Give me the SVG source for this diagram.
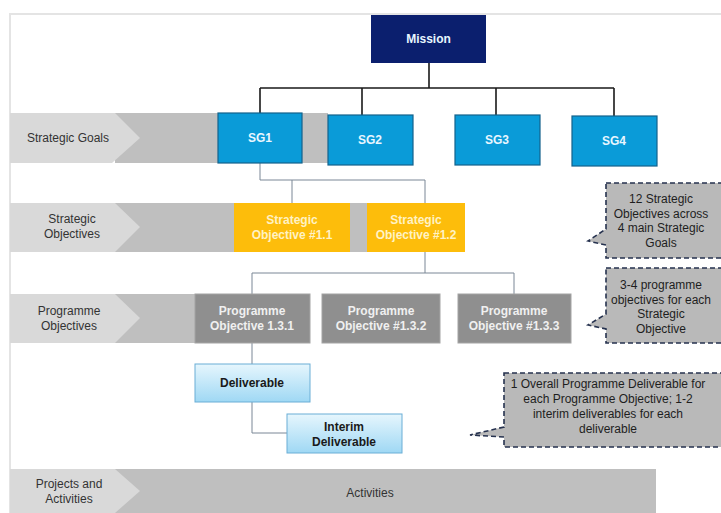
<svg xmlns="http://www.w3.org/2000/svg" width="721" height="513" viewBox="0 0 721 513">
<defs>
<style>
.frame{fill:none;stroke:#e4e4e4;stroke-width:2}
.light{fill:#d9d9d9}
.dark{fill:#bfbfbf}
.lbl{font-family:"Liberation Sans",Arial,sans-serif;font-size:12px;fill:#333;text-anchor:middle}
.sg{fill:#0a9bd8;stroke:#13628c;stroke-width:1.2}
.sgt{font-family:"Liberation Sans",Arial,sans-serif;font-size:12px;font-weight:bold;fill:#e8f6ff;text-anchor:middle}
.so{fill:#fdbd0b}
.sot{font-family:"Liberation Sans",Arial,sans-serif;font-size:12px;font-weight:bold;fill:#fff2c4;text-anchor:middle}
.po{fill:#8f8f8f;stroke:#a4a4a4;stroke-width:1}
.pot{font-family:"Liberation Sans",Arial,sans-serif;font-size:12px;font-weight:bold;fill:#f0f0f0;text-anchor:middle}
.dl{fill:url(#dg);stroke:#6aaed6;stroke-width:1}
.dlt{font-family:"Liberation Sans",Arial,sans-serif;font-size:12px;font-weight:bold;fill:#1a1a1a;text-anchor:middle}
.co{fill:#b9b9b9;stroke:#26324f;stroke-width:1.6;stroke-dasharray:5,3}
.cot{font-family:"Liberation Sans",Arial,sans-serif;font-size:12px;fill:#1e1e1e;text-anchor:middle}
.blk{fill:none;stroke:#1a1a1a;stroke-width:1.6}
.thin{fill:none;stroke:#7a8796;stroke-width:1}
</style>
<linearGradient id="dg" x1="0" y1="0" x2="0" y2="1">
<stop offset="0" stop-color="#e6f6fd"/>
<stop offset="1" stop-color="#9fd8f4"/>
</linearGradient>
</defs>
<rect width="721" height="513" fill="#ffffff"/>
<path class="frame" d="M10,513 V14 H721"/>

<g id="bands">
<rect class="dark" x="115" y="113" width="213" height="50"/>
<polygon class="light" points="10,113 115,113 140,138 112,163 10,163"/>
<text class="lbl" x="68" y="142">Strategic Goals</text>
<rect class="dark" x="115" y="203" width="350" height="49"/>
<polygon class="light" points="10,203 115,203 140,227 115,252 10,252"/>
<text class="lbl" x="72" y="223">Strategic</text>
<text class="lbl" x="72" y="238">Objectives</text>
<rect class="dark" x="115" y="294" width="195" height="49"/>
<polygon class="light" points="10,294 115,294 140,318 115,343 10,343"/>
<text class="lbl" x="69" y="315">Programme</text>
<text class="lbl" x="69" y="330">Objectives</text>
<rect class="dark" x="115" y="469" width="541" height="44"/>
<polygon class="light" points="10,469 115,469 140,491 115,513 10,513"/>
<text class="lbl" x="69" y="488">Projects and</text>
<text class="lbl" x="69" y="503">Activities</text>
<text class="lbl" x="370" y="497">Activities</text>
</g>

<g id="connectors">
<path class="blk" d="M429,63 V88 M260,88 H614 M260,88 V113 M362,88 V115 M496,88 V115 M614,88 V116"/>
<path class="thin" d="M260,163 V180 H425 M292,180 V203 M425,180 V203"/>
<path class="thin" d="M425,252 V273 M252,273 H514 M252,273 V294 M514,273 V294"/>
<path class="thin" d="M252,343 V364 M252,402 V433 H287"/>
</g>

<g id="mission">
<rect x="371" y="15" width="115" height="48" fill="#0b1f6e"/>
<text class="sgt" x="428.5" y="43">Mission</text>
</g>
<g id="sg1"><rect class="sg" x="218" y="113" width="84" height="50"/><text class="sgt" x="260" y="142">SG1</text></g>
<g id="sg2"><rect class="sg" x="328" y="115" width="85" height="50"/><text class="sgt" x="370" y="144">SG2</text></g>
<g id="sg3"><rect class="sg" x="455" y="115" width="85" height="50"/><text class="sgt" x="497" y="144">SG3</text></g>
<g id="sg4"><rect class="sg" x="572" y="116" width="85" height="50"/><text class="sgt" x="614" y="145">SG4</text></g>

<g id="so11"><rect class="so" x="234" y="203" width="116" height="49"/><text class="sot" x="292" y="224">Strategic</text><text class="sot" x="292" y="239">Objective #1.1</text></g>
<g id="so12"><rect class="so" x="367" y="203" width="98" height="49"/><text class="sot" x="416" y="224">Strategic</text><text class="sot" x="416" y="239">Objective #1.2</text></g>

<g id="po131"><rect class="po" x="195" y="294" width="115" height="49"/><text class="pot" x="252" y="315">Programme</text><text class="pot" x="252" y="330">Objective 1.3.1</text></g>
<g id="po132"><rect class="po" x="322" y="294" width="118" height="49"/><text class="pot" x="381" y="315">Programme</text><text class="pot" x="381" y="330">Objective #1.3.2</text></g>
<g id="po133"><rect class="po" x="458" y="294" width="113" height="49"/><text class="pot" x="514" y="315">Programme</text><text class="pot" x="514" y="330">Objective #1.3.3</text></g>

<g id="deliverable"><rect class="dl" x="195" y="364" width="115" height="38"/><text class="dlt" x="252" y="387">Deliverable</text></g>
<g id="interim"><rect class="dl" x="287" y="414" width="115" height="39"/><text class="dlt" x="344" y="431">Interim</text><text class="dlt" x="344" y="446">Deliverable</text></g>

<g id="callout1">
<path class="co" d="M606,183 H722 V258 H606 V245 L588,241 L606,229 Z"/>
<text class="cot" x="661" y="203">12 Strategic</text>
<text class="cot" x="661" y="218">Objectives across</text>
<text class="cot" x="661" y="232">4 main Strategic</text>
<text class="cot" x="661" y="247">Goals</text>
</g>
<g id="callout2">
<path class="co" d="M606,268 H722 V343 H606 V329 L588,325 L606,314 Z"/>
<text class="cot" x="661" y="289">3-4 programme</text>
<text class="cot" x="661" y="304">objectives for each</text>
<text class="cot" x="661" y="318">Strategic</text>
<text class="cot" x="661" y="333">Objective</text>
</g>
<g id="callout3">
<path class="co" d="M504,373 H722 V447 H504 V437 L470,435 L504,427 Z"/>
<text class="cot" x="608" y="388">1 Overall Programme Deliverable for</text>
<text class="cot" x="608" y="403">each Programme Objective; 1-2</text>
<text class="cot" x="608" y="418">interim deliverables for each</text>
<text class="cot" x="608" y="433">deliverable</text>
</g>
</svg>
